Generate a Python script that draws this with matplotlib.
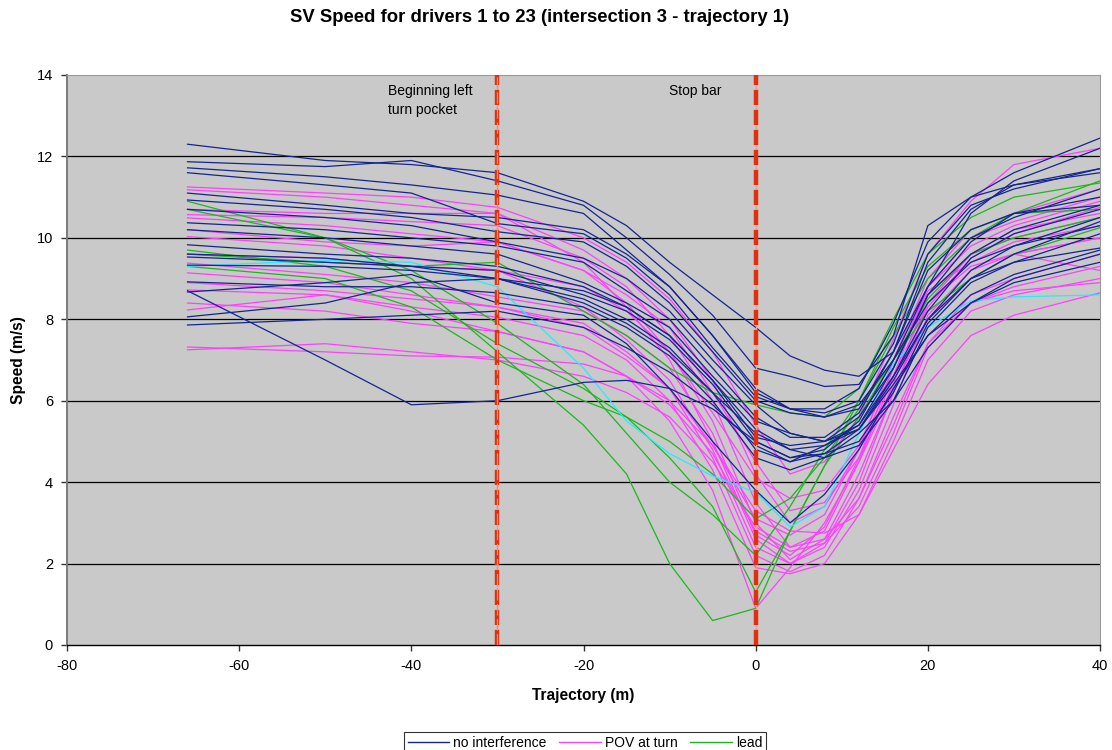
import matplotlib
matplotlib.use("Agg")
import matplotlib.pyplot as plt
from matplotlib.lines import Line2D

plt.rcParams['font.family'] = ['Liberation Sans', 'DejaVu Sans']
plt.rcParams['axes.unicode_minus'] = False

# ---------------- data ----------------
title = "SV Speed for drivers 1 to 23 (intersection 3 - trajectory 1)"
x_label = "Trajectory (m)"
y_label = "Speed (m/s)"
legend_labels = ["no interference", "POV at turn", "lead"]
x_ticks = [-80, -60, -40, -20, 0, 20, 40]
y_ticks = [0, 2, 4, 6, 8, 10, 12, 14]
marker_positions = [-30, 0]
marker_labels = ["Beginning left\nturn pocket", "Stop bar"]

# trajectory positions (m) at which speeds were read
traj = [-66, -50, -40, -30, -20, -15, -10, -5, 0, 4, 8, 12, 16, 20, 25, 30, 40]

# no interference (dark blue)
no_interference = [
    [12.3, 11.9, 11.8, 11.6, 10.9, 10.3, 9.4, 8.6, 7.8, 7.1, 6.75, 6.6, 7.2, 8.8, 10.6, 11.4, 12.2],
    [11.87, 11.75, 11.9, 11.4, 10.8, 10.0, 9.1, 8.1, 6.8, 6.6, 6.35, 6.4, 7.6, 10.3, 11.0, 11.6, 12.45],
    [11.72, 11.5, 11.3, 11.05, 10.6, 9.7, 8.8, 7.6, 6.3, 5.8, 5.7, 6.0, 7.4, 9.6, 10.8, 11.2, 11.7],
    [11.6, 11.3, 11.1, 10.35, 10.1, 9.5, 8.6, 7.3, 6.1, 5.8, 5.8, 6.3, 7.9, 9.9, 11.0, 11.3, 11.6],
    [10.93, 10.7, 10.5, 10.15, 9.9, 9.3, 8.4, 7.2, 6.0, 5.7, 5.6, 5.9, 7.0, 8.8, 10.0, 10.5, 11.2],
    [10.7, 10.5, 10.3, 9.9, 9.5, 9.0, 8.2, 7.0, 5.9, 5.2, 5.0, 5.6, 6.8, 8.6, 9.9, 10.6, 11.0],
    [10.37, 10.2, 10.0, 9.8, 9.4, 8.7, 8.0, 6.8, 5.6, 5.1, 5.1, 5.7, 7.2, 9.2, 10.2, 10.6, 10.8],
    [10.2, 10.0, 9.8, 9.6, 8.9, 8.4, 7.8, 6.6, 5.5, 5.2, 5.0, 5.3, 6.5, 8.0, 9.2, 9.8, 10.5],
    [9.83, 9.6, 9.5, 9.3, 8.8, 8.3, 7.6, 6.5, 5.3, 4.8, 4.9, 5.4, 6.6, 8.2, 9.5, 10.1, 10.7],
    [9.53, 9.4, 9.3, 9.2, 8.6, 8.2, 7.5, 6.4, 5.0, 4.6, 4.8, 5.5, 7.0, 8.4, 9.4, 9.8, 10.3],
    [9.33, 9.3, 9.2, 9.0, 8.5, 8.0, 7.3, 6.2, 4.8, 4.5, 4.9, 5.3, 6.4, 7.6, 8.6, 9.1, 9.7],
    [8.92, 8.8, 8.8, 8.65, 8.3, 7.8, 7.1, 6.0, 4.6, 4.3, 4.6, 5.2, 6.0, 7.3, 8.4, 9.0, 9.6],
    [8.67, 8.9, 9.1, 8.4, 8.1, 7.4, 6.3, 5.0, 3.8, 3.0, 3.7, 4.8, 6.3, 7.6, 8.4, 8.9, 9.4],
    [8.7, 7.0, 5.9, 6.0, 6.45, 6.5, 6.3, 5.8, 5.0, 4.6, 4.7, 5.3, 6.6, 8.0, 9.0, 9.4, 9.75],
    [8.06, 8.4, 8.9, 9.0, 8.7, 8.3, 7.6, 6.5, 5.1, 4.9, 5.0, 5.4, 6.8, 8.6, 9.6, 10.2, 10.8],
    [7.86, 8.0, 8.1, 8.2, 7.8, 7.3, 6.7, 5.9, 4.9, 4.5, 4.7, 5.0, 6.2, 7.9, 9.0, 9.6, 10.4],
    [11.1, 10.8, 10.6, 10.5, 10.2, 9.6, 8.8, 7.6, 6.2, 5.8, 5.6, 5.8, 7.2, 9.4, 10.7, 11.3, 11.7],
    [9.6, 9.5, 9.3, 9.0, 8.4, 7.9, 7.2, 6.2, 5.2, 4.8, 4.6, 4.9, 6.0, 7.8, 8.9, 9.4, 10.1],
]

# POV at turn (magenta)
pov_at_turn = [
    [11.25, 11.1, 11.0, 10.75, 10.0, 9.4, 8.5, 7.2, 5.4, 4.2, 4.5, 5.6, 7.5, 9.6, 10.9, 11.8, 12.2],
    [11.18, 11.0, 10.8, 10.6, 9.7, 9.0, 8.0, 6.5, 4.2, 3.0, 3.4, 4.8, 7.0, 9.0, 10.2, 10.6, 11.2],
    [10.57, 10.5, 10.4, 10.3, 9.5, 8.8, 7.6, 6.0, 3.5, 2.4, 2.8, 4.5, 6.6, 8.8, 9.8, 10.3, 10.9],
    [10.49, 10.3, 10.1, 9.9, 9.2, 8.4, 7.2, 5.5, 3.0, 2.1, 2.6, 4.2, 6.2, 8.3, 9.5, 10.1, 10.75],
    [10.03, 9.8, 9.5, 9.2, 8.3, 7.5, 6.5, 4.8, 2.4, 2.0, 2.5, 4.0, 6.2, 8.4, 9.6, 10.0, 10.5],
    [9.38, 9.1, 8.9, 8.55, 8.2, 7.6, 6.8, 5.2, 2.7, 2.2, 2.9, 4.6, 6.8, 8.7, 9.4, 9.9, 10.3],
    [9.14, 8.9, 8.6, 8.3, 7.9, 7.2, 6.3, 4.6, 2.2, 1.8, 2.2, 3.6, 5.4, 7.4, 8.6, 9.0, 9.6],
    [8.72, 8.6, 8.3, 8.05, 7.6, 7.0, 6.0, 4.3, 1.9, 1.75, 2.0, 3.2, 5.0, 7.0, 8.2, 8.6, 9.0],
    [8.23, 8.6, 8.2, 7.7, 7.2, 6.6, 5.5, 3.8, 0.9, 1.9, 3.0, 4.5, 6.3, 8.0, 9.0, 9.6, 10.0],
    [7.32, 7.2, 7.1, 7.07, 6.9, 6.6, 6.0, 4.9, 3.3, 2.8, 2.75, 3.2, 4.8, 6.4, 7.6, 8.1, 8.65],
    [7.25, 7.4, 7.2, 7.0, 6.6, 6.2, 5.6, 4.5, 2.9, 2.4, 2.6, 3.6, 5.6, 7.4, 8.4, 8.7, 8.9],
    [8.9, 8.7, 8.5, 8.3, 7.8, 7.1, 6.3, 4.9, 3.1, 2.7, 3.2, 4.8, 6.6, 8.4, 9.3, 9.6, 10.0],
    [9.6, 9.5, 9.3, 9.2, 8.8, 8.2, 7.2, 5.7, 4.1, 3.6, 3.8, 4.9, 6.8, 8.8, 10.0, 10.4, 11.0],
    [10.2, 9.9, 9.8, 9.9, 9.2, 8.6, 7.8, 6.2, 4.5, 3.3, 3.5, 4.6, 6.4, 8.6, 9.6, 10.2, 10.6],
    [10.7, 10.6, 10.6, 10.6, 9.4, 8.3, 7.0, 5.0, 2.6, 2.0, 2.4, 3.8, 5.9, 8.1, 9.2, 9.6, 9.2],
    [8.4, 8.2, 7.9, 7.7, 7.2, 6.6, 5.9, 4.7, 2.8, 2.3, 2.5, 3.4, 5.2, 7.3, 8.4, 8.8, 9.3],
]

# lead (green)
lead = [
    [10.9, 10.0, 9.0, 7.2, 5.4, 4.2, 2.0, 0.6, 0.9, 2.8, 4.4, 5.6, 7.0, 8.5, 9.6, 10.0, 10.5],
    [10.7, 10.0, 9.2, 7.9, 6.4, 5.2, 4.0, 3.2, 2.2, 3.4, 4.8, 6.0, 7.6, 9.0, 10.0, 10.6, 11.4],
    [9.7, 9.3, 8.7, 7.4, 6.3, 5.6, 4.6, 3.4, 1.3, 2.8, 4.4, 6.0, 7.8, 9.3, 10.2, 10.6, 10.7],
    [9.3, 9.0, 8.3, 7.0, 6.0, 5.6, 5.0, 4.2, 3.1, 3.6, 4.6, 5.8, 7.0, 8.2, 9.0, 9.6, 10.25],
    [9.6, 9.4, 9.3, 9.4, 8.2, 7.6, 6.8, 6.2, 5.9, 5.7, 5.6, 6.3, 8.0, 9.6, 10.5, 11.0, 11.35],
]

# one further driver (cyan)
other = [
    [9.3, 9.45, 9.4, 8.8, 6.8, 5.5, 4.7, 4.15, 3.75, 2.9, 3.4, 5.2, 6.9, 7.8, 8.45, 8.55, 8.6],
]

# ---------------- styling ----------------
C_BLUE = '#14258F'
C_MAG = '#FF40FF'
C_GREEN = '#1FB51F'
C_CYAN = '#1FEEFF'

fig = plt.figure(figsize=(11.12, 7.5), dpi=100)
ax = fig.add_axes([67 / 1112, 105 / 750, (1100 - 67) / 1112, (645 - 75) / 750])
ax.set_facecolor('#C9C9C9')

for yv in y_ticks[1:-1]:
    ax.axhline(yv, color='black', lw=0.9, zorder=1)

LW = 0.9
for s in pov_at_turn:
    ax.plot(traj, s, color=C_MAG, lw=LW, zorder=2)
for s in lead:
    ax.plot(traj, s, color=C_GREEN, lw=LW, zorder=3)
for s in other:
    ax.plot(traj, s, color=C_CYAN, lw=LW, zorder=3)
for s in no_interference:
    ax.plot(traj, s, color=C_BLUE, lw=LW, zorder=4)

# vertical markers
for i, xm in enumerate(marker_positions):
    ax.axvline(xm, color='#EFA090', lw=1.0, zorder=5)
    ax.axvline(xm, color='#E2300E', lw=3.2, linestyle=(0, (3.4, 1.1)), zorder=6)
    if i == 0:
        ax.axvline(xm, color='#F09080', lw=0.9, linestyle=(0, (9.1, 2.94)), zorder=7)

ax.text(-42.7, 13.78, marker_labels[0], fontsize=10, ha='left', va='top',
        linespacing=1.45, zorder=8)
ax.text(-10.1, 13.78, marker_labels[1], fontsize=10, ha='left', va='top', zorder=8)

ax.set_xlim(-80, 40)
ax.set_ylim(0, 14)
ax.set_xticks(x_ticks)
ax.set_yticks(y_ticks)
ax.tick_params(axis='both', direction='out', length=4, width=1, labelsize=10.5,
               color='#333333', pad=6)
for side in ['top', 'right']:
    ax.spines[side].set_color('#9a9a9a')
    ax.spines[side].set_linewidth(0.8)
ax.spines['left'].set_color('#7a7a7a')
ax.spines['left'].set_linewidth(1.4)
ax.spines['bottom'].set_color('black')
ax.spines['bottom'].set_linewidth(1.0)

ax.set_xlabel(x_label, fontsize=11.2, fontweight='bold', labelpad=11)
ax.set_ylabel(y_label, fontsize=11.2, fontweight='bold', labelpad=8)

fig.text(540 / 1112, 1 - 18 / 750, title, fontsize=13.3, fontweight='bold',
         ha='center', va='center')

handles = [Line2D([], [], color=c, lw=1.0) for c in (C_BLUE, C_MAG, C_GREEN)]
leg = fig.legend(handles, legend_labels, loc='lower center', ncol=3,
                 bbox_to_anchor=(585 / 1112, -0.004), frameon=True, fancybox=False,
                 edgecolor='black', fontsize=10, handlelength=3.0, handletextpad=0.3,
                 columnspacing=0.9, borderpad=0.25, borderaxespad=0.0)
leg.get_frame().set_linewidth(0.8)

fig.savefig('out.png', dpi=100, facecolor='white')
